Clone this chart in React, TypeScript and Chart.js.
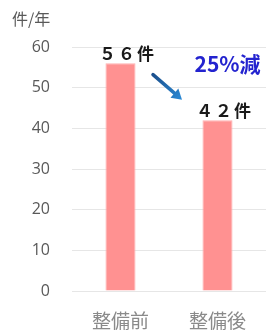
import React, { useEffect, useRef } from "react";
import { Chart, registerables } from "chart.js";

Chart.register(...registerables);

const categories = ["整備前", "整備後"];
const values = [56, 42];
const yTicks = [0, 10, 20, 30, 40, 50, 60];
const unitLabel = "件/年";
const countSuffix = "件";

const toFullWidth = (n: number) =>
  String(n).replace(/[0-9]/g, (d) => String.fromCharCode(d.charCodeAt(0) + 0xfee0));

const annotatePlugin = {
  id: "annotate",
  afterDraw(chart: any) {
    const ctx = chart.ctx;
    const x = chart.scales.x;
    const y = chart.scales.y;
    ctx.save();
    // unit label
    ctx.fillStyle = "#595959";
    ctx.font = "16px 'Noto Sans CJK JP'";
    ctx.textAlign = "left";
    ctx.textBaseline = "middle";
    ctx.fillText(unitLabel, 12, 19);

    // value labels
    ctx.fillStyle = "#1a1a1a";
    ctx.font = "bold 17px 'Noto Sans CJK JP'";
    ctx.textAlign = "center";
    ctx.textBaseline = "middle";
    try { (ctx as any).letterSpacing = "2px"; } catch (e) {}
    values.forEach((v, i) => {
      const px = x.getPixelForValue(i) + 7;
      const py = y.getPixelForValue(v) - 10;
      ctx.fillText(toFullWidth(v) + countSuffix, px, py);
    });
    try { (ctx as any).letterSpacing = "0px"; } catch (e) {}

    // percent label
    const pct = Math.round(((values[0] - values[1]) / values[0]) * 100);
    ctx.fillStyle = "#2323cf";
    ctx.font = "bold 21px 'Noto Sans CJK JP'";
    ctx.fillText(pct + "%減", x.getPixelForValue(1) + 10, y.getPixelForValue(values[0]) + 1);

    // arrow
    const mx = (x.getPixelForValue(0) + x.getPixelForValue(1)) / 2 - 1;
    const my = y.getPixelForValue(50);
    const x0 = mx - 15, y0 = my - 13, x1 = mx + 14, y1 = my + 12;
    const grad = ctx.createLinearGradient(x0, y0, x1, y1);
    grad.addColorStop(0, "#1b4f8c");
    grad.addColorStop(1, "#2a8ad6");
    ctx.strokeStyle = grad;
    ctx.fillStyle = grad;
    ctx.lineWidth = 3.5;
    ctx.lineCap = "round";
    const ang = Math.atan2(y1 - y0, x1 - x0);
    const headLen = 10;
    const bx = x1 - headLen * Math.cos(ang);
    const by = y1 - headLen * Math.sin(ang);
    ctx.beginPath();
    ctx.moveTo(x0, y0);
    ctx.lineTo(bx, by);
    ctx.stroke();
    ctx.beginPath();
    ctx.moveTo(x1, y1);
    ctx.lineTo(bx + 6 * Math.sin(ang), by - 6 * Math.cos(ang));
    ctx.lineTo(bx - 6 * Math.sin(ang), by + 6 * Math.cos(ang));
    ctx.closePath();
    ctx.fill();
    ctx.restore();
  },
};

export default function App() {
  const ref = useRef<HTMLCanvasElement>(null);
  useEffect(() => {
    document.body.style.margin = "0";
    const chart = new Chart(ref.current!, {
      type: "bar",
      data: {
        labels: categories,
        datasets: [
          {
            data: values,
            backgroundColor: "#ff9191",
            borderColor: "#ffb0b0",
            borderWidth: 1,
            barPercentage: 0.31,
            categoryPercentage: 1,
          },
        ],
      },
      options: {
        animation: false,
        responsive: false,
        maintainAspectRatio: false,
        layout: { padding: { top: 47, right: 0, bottom: 0, left: 0 } },
        plugins: { legend: { display: false }, tooltip: { enabled: false } },
        scales: {
          x: {
            grid: { display: false },
            border: { display: false },
            afterFit(scale: any) {
              scale.height = 42;
            },
            ticks: {
              color: "#8a8a8a",
              font: { size: 19, family: "'Noto Sans CJK JP'" },
              padding: 10,
            },
          },
          y: {
            min: 0,
            max: 60,
            afterFit(scale: any) {
              scale.width = 72;
            },
            afterBuildTicks(scale: any) {
              scale.ticks = yTicks.map((v) => ({ value: v }));
            },
            grid: { color: "#e6e6e6", lineWidth: 1, drawTicks: false },
            border: { display: false },
            ticks: {
              color: "#595959",
              font: { size: 16, family: "'Open Sans'" },
              padding: 22,
            },
          },
        },
      },
      plugins: [annotatePlugin],
    });
    return () => chart.destroy();
  }, []);
  return (
    <div style={{ position: "relative", width: 266, height: 333 }}>
      <canvas ref={ref} width={266} height={333} style={{ display: "block" }} />
    </div>
  );
}
